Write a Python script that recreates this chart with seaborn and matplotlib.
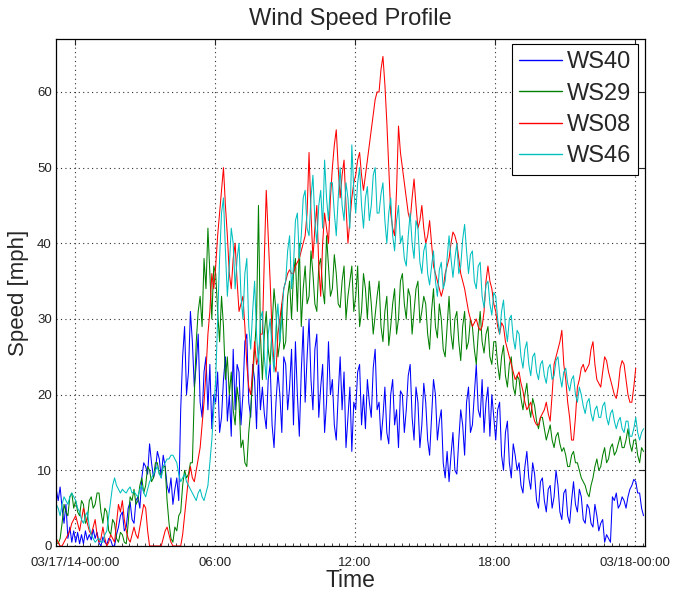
import numpy as np
import pandas as pd
import matplotlib
matplotlib.use("Agg")
import matplotlib.pyplot as plt
import matplotlib.dates as mdates
import seaborn as sns

# Anemometer readings, 5-minute samples starting 2014-03-16 23:12
start = "2014-03-16 23:12"
nan = np.nan

ws40 = [7.5, 6.0, 7.8, 5.0, 3.0, 5.5, 1.0, 2.5, 0.5, 2.0,
        0.5, 1.8, 0.3, 1.5, 0.3, 2.0, 0.8, 1.5, 0.8, 2.2, 1.0, 1.8,
        0.4, 0.0, 1.2, 0.5, 0.2, 1.0, 0.8, 0.0, 0.0, 1.5, 2.5, 4.0,
        4.5, 2.0, 2.5, 5.0, 5.8, 3.5, 3.0, 6.0, 6.5, 5.0, 9.0, 11.0,
        10.5, 9.5, 13.5, 11.0, 9.0, 10.0, 12.5, 11.5, 9.0, 12.0, 10.5, 8.0,
        7.0, 9.0, 5.5, 7.5, 9.0, 6.0, 18.0, 25.0, 29.0, 20.0, 23.0, 31.0,
        27.0, 21.0, 24.0, 28.0, 19.0, 17.0, 23.0, 25.0, 18.0, 24.0, 15.5, 20.0,
        19.0, 23.0, 15.0, 17.0, 22.0, 25.0, 16.5, 20.0, 14.5, 26.0, 18.0, 24.0,
        23.0, 16.0, 20.0, 27.0, 28.0, 19.0, 17.0, 24.0, 22.0, 15.5, 25.0, 18.0,
        21.0, 17.5, 15.5, 22.0, 24.0, 16.0, 13.0, 19.0, 23.0, 20.0, 15.0, 25.0,
        24.0, 18.0, 21.0, 26.0, 16.0, 27.0, 20.0, 14.5, 23.0, 29.0, 19.0, 25.0,
        30.0, 22.0, 18.0, 26.0, 28.0, 17.0, 21.0, 24.0, 15.0, 19.0, 27.0, 20.0,
        22.0, 16.0, 14.0, 20.0, 25.0, 18.0, 23.0, 13.0, 17.0, 21.0, 12.5, 19.0,
        18.0, 23.0, 24.0, 16.0, 20.0, 15.5, 22.0, 19.0, 17.0, 23.5, 26.0, 18.0,
        19.0, 14.0, 17.0, 21.0, 15.0, 13.5, 20.0, 22.0, 16.0, 18.0, 13.0, 20.5,
        20.0, 15.0, 18.0, 22.5, 24.0, 17.0, 14.0, 21.0, 19.0, 13.0, 16.0, 21.5,
        19.0, 14.0, 12.0, 17.0, 22.0, 20.0, 14.0, 16.5, 18.0, 11.0, 9.0, 12.5,
        8.5, 12.0, 15.0, 10.0, 9.5, 14.0, 18.0, 16.0, 12.0, 19.0, 21.0, 15.0,
        16.0, 20.0, 24.0, 18.0, 17.0, 22.0, 15.0, 19.0, 21.0, 14.5, 20.0, 17.0,
        14.0, 18.0, 19.0, 12.0, 10.0, 15.0, 16.5, 11.0, 9.0, 13.5, 12.0, 10.0,
        11.0, 8.0, 7.0, 10.5, 12.5, 9.0, 7.5, 11.0, 9.5, 6.0, 5.0, 8.5,
        9.0, 6.0, 4.5, 7.5, 8.0, 5.0, 6.5, 10.0, 8.0, 4.5, 3.5, 7.0,
        7.5, 4.0, 3.0, 6.0, 8.5, 5.5, 4.5, 7.5, 6.5, 3.5, 3.0, 5.5,
        5.0, 3.0, 2.5, 5.5, 4.0, 2.0, 3.0, 3.5, 0.5, 1.5, 1.0, 0.5,
        6.5, 6.0, 7.0, 5.0, 5.5, 6.5, 6.0, 5.0, 6.5, 7.5, 8.0, 8.8,
        8.5, 7.0, 7.0, 5.0, 4.0]

ws29 = [0.5, 0.3, 1.0, 3.0, 5.5, 4.5, 4.0, 6.5, 7.0, 5.0,
        6.0, 4.5, 4.0, 6.0, 5.5, 3.0, 3.5, 6.0, 6.5, 5.0, 5.5, 7.0,
        7.0, 4.5, 3.0, 5.0, 4.5, 2.0, 1.5, 3.5, 3.0, 1.0, 0.5, 1.8,
        1.5, 0.5, 0.3, 3.0, 6.5, 6.0, 7.5, 5.5, 6.0, 8.0, 9.0, 7.0,
        8.0, 10.5, 10.0, 8.5, 9.0, 11.0, 11.0, 9.5, 9.5, 10.5, 10.5, 6.0,
        3.0, 1.0, 0.5, 2.5, 2.0, 4.0, 4.5, 8.0, 10.0, 9.0, 9.5, 11.0,
        11.0, 20.0, 27.0, 31.0, 33.0, 29.0, 38.0, 34.0, 42.0, 36.0, 30.0, 37.0,
        36.0, 31.0, 27.0, 33.0, 29.0, 22.0, 25.0, 20.0, 23.0, 18.0, 16.0, 21.0,
        19.0, 13.0, 14.0, 11.0, 10.5, 15.0, 18.0, 22.0, 26.0, 30.0, 45.0, 28.0,
        22.0, 28.0, 31.0, 26.0, 24.0, 29.0, 34.0, 31.0, 25.0, 27.0, 32.0, 26.0,
        27.0, 33.0, 35.0, 30.0, 36.0, 38.0, 31.0, 40.0, 29.0, 34.0, 37.0, 32.0,
        33.0, 39.0, 36.0, 32.0, 31.0, 37.0, 38.0, 34.0, 32.0, 41.0, 37.0, 33.0,
        34.0, 38.5, 36.0, 32.0, 31.5, 35.0, 37.0, 30.0, 33.0, 35.0, 37.0, 31.0,
        33.0, 37.0, 29.0, 31.0, 36.0, 34.0, 30.0, 35.0, 32.0, 28.0, 30.5, 33.0,
        35.0, 29.0, 27.0, 31.0, 33.0, 26.5, 29.0, 32.0, 34.0, 28.0, 30.0, 35.0,
        36.0, 32.0, 30.0, 34.0, 33.0, 28.0, 31.0, 34.0, 35.0, 29.5, 31.0, 33.0,
        32.0, 28.0, 26.0, 31.0, 34.0, 29.0, 27.5, 32.0, 30.0, 26.0, 25.0, 29.0,
        33.0, 28.0, 26.0, 30.0, 31.0, 27.0, 24.5, 29.0, 31.0, 26.0, 27.0, 30.0,
        29.0, 26.0, 24.0, 28.0, 31.0, 27.0, 25.5, 28.0, 29.0, 25.0, 24.0, 27.0,
        27.0, 24.0, 22.0, 25.0, 26.5, 22.5, 21.0, 24.0, 25.0, 21.0, 20.0, 22.5,
        22.0, 19.5, 18.0, 20.0, 21.5, 18.5, 17.0, 19.5, 18.5, 16.5, 15.5, 17.0,
        17.0, 15.5, 14.0, 15.0, 16.0, 14.0, 13.0, 14.5, 15.0, 13.5, 12.5, 13.0,
        12.0, 10.5, 10.5, 12.0, 12.5, 11.0, 11.0, 10.0, 9.0, 8.5, 8.0, 7.0,
        6.5, 8.0, 9.0, 10.5, 11.5, 10.0, 10.5, 12.0, 13.0, 11.0, 11.5, 13.0,
        13.5, 12.0, 12.5, 13.5, 14.5, 13.0, 13.0, 14.0, 15.5, 13.5, 12.5, 14.0,
        14.0, 12.0, 11.0, 13.0, 12.5]

ws08 = [1.0, 0.5, 0.0, 0.0, 0.5, 1.0, 1.5, 2.0, 3.0, 3.5,
        4.0, 3.0, 2.0, 3.5, 5.0, 4.0, 3.0, 2.0, 1.5, 2.5, 3.5, 1.5,
        0.5, 1.0, 2.5, 1.0, 0.0, 0.5, 1.5, 1.0, 0.5, 3.0, 5.5, 4.5,
        6.0, 3.5, 2.0, 1.0, 0.5, 1.5, 2.5, 1.5, 1.0, 2.5, 4.0, 5.5,
        5.0, 2.0, 0.0, 0.0, 0.0, 0.0, 0.0, 0.0, 0.0, 1.0, 2.0, 2.5,
        1.5, 0.5, 0.0, 0.0, 0.0, 0.0, 0.0, 1.5, 4.0, 6.5, 9.0, 10.5,
        9.0, 8.5, 10.0, 11.5, 13.0, 16.0, 19.0, 23.0, 28.0, 31.0, 36.0, 34.0,
        37.0, 41.0, 44.0, 47.0, 50.0, 45.0, 41.0, 36.0, 34.0, 38.0, 40.0, 35.0,
        31.0, 32.0, 33.0, 29.0, 24.0, 21.0, 20.0, 23.0, 27.0, 24.0, 25.0, 28.0,
        28.0, 38.0, 47.0, 41.0, 35.0, 28.0, 24.0, 23.0, 28.0, 30.0, 32.0, 34.0,
        35.0, 36.0, 36.5, 36.0, 36.0, 37.0, 37.5, 38.0, 39.0, 40.0, 41.0, 44.0,
        52.0, 44.0, 38.0, 42.0, 45.0, 37.0, 33.0, 40.0, 44.0, 42.0, 40.0, 46.0,
        50.0, 53.0, 55.0, 50.0, 46.0, 49.0, 51.0, 45.0, 40.0, 43.0, 46.0, 48.0,
        49.0, 51.0, 52.0, 49.0, 47.0, 49.0, 51.0, 53.0, 55.0, 57.0, 59.0, 60.0,
        60.0, 63.0, 64.7, 61.0, 56.0, 50.0, 44.0, 42.0, 41.0, 47.0, 55.5, 52.0,
        50.0, 48.0, 46.0, 44.0, 43.0, 46.0, 48.5, 45.0, 42.0, 43.0, 45.0, 42.0,
        40.0, 41.0, 43.0, 40.0, 37.0, 36.0, 35.0, 34.0, 33.0, 34.0, 36.0, 37.0,
        38.0, 40.0, 41.5, 41.0, 40.0, 38.0, 36.0, 35.0, 34.0, 32.5, 31.0, 30.0,
        29.0, 29.5, 30.0, 29.0, 28.5, 29.0, 31.0, 35.0, 37.0, 35.0, 34.0, 32.0,
        31.0, 29.0, 28.0, 29.5, 29.0, 27.0, 26.0, 25.0, 24.0, 23.0, 22.0, 22.5,
        23.0, 21.5, 20.5, 19.0, 18.0, 18.5, 19.0, 17.5, 16.5, 16.0, 16.0, 17.0,
        17.5, 18.0, 19.0, 17.5, 16.5, 20.0, 24.0, 25.0, 26.0, 27.0, 28.5, 24.0,
        22.0, 19.0, 17.0, 14.0, 14.0, 17.0, 21.0, 22.0, 23.5, 24.0, 23.0, 23.5,
        24.0, 26.0, 27.0, 24.0, 22.0, 21.5, 21.0, 23.0, 25.0, 24.5, 23.0, 22.0,
        21.0, 20.0, 19.5, 21.0, 23.5, 24.5, 24.0, 22.0, 20.0, 19.0, 19.0, 21.0,
        23.5, nan, nan, nan, nan]

ws46 = [5.5, 5.0, 4.0, 5.5, 6.5, 6.0, 5.5, 6.5, 7.0, 6.5,
        6.0, 5.0, 4.5, 3.5, 3.0, 4.0, 4.5, 2.5, 1.5, 1.0, 0.5, 0.8,
        1.0, 0.5, 0.5, 1.5, 2.0, 4.0, 6.0, 8.0, 9.0, 8.0, 7.5, 7.0,
        7.5, 7.2, 7.0, 7.5, 7.8, 7.0, 7.2, 6.8, 6.5, 7.5, 8.0, 7.0,
        6.5, 7.5, 8.5, 9.0, 9.5, 10.0, 10.5, 9.5, 9.0, 10.5, 11.0, 11.5,
        11.5, 12.0, 12.0, 11.5, 11.0, 9.5, 8.5, 9.0, 9.5, 8.5, 8.0, 7.5,
        7.0, 6.5, 6.0, 7.0, 7.5, 6.5, 6.0, 7.0, 8.0, 11.0, 14.0, 18.0,
        22.0, 30.0, 38.0, 44.0, 46.0, 39.0, 33.0, 37.0, 42.0, 40.0, 34.0, 38.0,
        40.0, 33.0, 30.0, 36.0, 38.0, 29.0, 26.0, 31.0, 35.0, 28.0, 24.0, 30.0,
        31.0, 25.0, 22.0, 28.0, 30.0, 26.0, 23.0, 29.0, 32.0, 27.0, 30.0, 34.0,
        35.0, 39.0, 41.0, 34.0, 37.0, 43.0, 44.0, 38.0, 41.0, 46.0, 47.0, 42.0,
        41.0, 46.0, 49.0, 43.0, 40.0, 45.0, 47.0, 42.0, 51.0, 46.0, 43.0, 48.0,
        48.0, 44.0, 41.0, 46.0, 50.0, 45.0, 43.0, 48.0, 46.0, 42.0, 53.0, 47.0,
        44.0, 48.0, 50.0, 45.0, 42.0, 46.0, 47.5, 43.0, 45.0, 49.0, 50.0, 44.0,
        44.0, 46.5, 48.0, 43.0, 40.0, 44.0, 46.0, 41.0, 39.0, 43.0, 45.0, 40.0,
        41.0, 38.0, 37.0, 41.0, 44.0, 40.0, 38.0, 43.0, 42.0, 37.5, 36.0, 39.0,
        40.0, 36.0, 34.5, 37.0, 39.0, 35.0, 33.0, 36.5, 37.5, 34.0, 35.0, 38.0,
        41.0, 38.0, 35.5, 38.0, 40.0, 36.0, 37.0, 40.5, 42.5, 39.0, 36.0, 38.5,
        39.0, 35.0, 34.0, 37.0, 37.5, 33.0, 31.5, 34.5, 35.0, 32.0, 30.5, 33.5,
        33.0, 30.0, 28.0, 31.0, 32.5, 29.0, 27.0, 30.0, 30.5, 27.5, 26.0, 28.5,
        28.0, 25.0, 23.5, 26.0, 27.0, 24.0, 22.5, 25.0, 25.5, 23.0, 22.0, 24.0,
        24.5, 22.5, 21.5, 23.5, 24.0, 22.0, 22.5, 24.5, 25.0, 22.5, 21.0, 23.0,
        23.5, 21.5, 20.5, 22.0, 22.5, 20.0, 19.0, 21.0, 20.0, 18.5, 17.5, 19.0,
        19.5, 17.5, 16.5, 18.0, 18.5, 17.0, 17.0, 18.5, 19.0, 17.0, 16.0, 17.5,
        18.0, 16.5, 15.5, 16.5, 17.0, 15.5, 15.0, 16.5, 16.5, 14.5, 14.5, 15.5,
        17.0, 15.0, 14.0, 15.0, 15.5]

sensors = ["WS40", "WS29", "WS08", "WS46"]
colors = ["#0000ff", "#008000", "#ff0000", "#00bfbf"]
tick_labels = ["03/17/14-00:00", "06:00", "12:00", "18:00", "03/18-00:00"]

times = pd.date_range(start, periods=len(ws40), freq="5min")
frames = []
for name, vals in zip(sensors, [ws40, ws29, ws08, ws46]):
    frames.append(pd.DataFrame({"Time": times, "Speed": vals, "Sensor": name}))
df = pd.concat(frames, ignore_index=True).dropna()

sns.set_style("white")
plt.rcParams["font.family"] = ["Liberation Sans", "DejaVu Sans"]

fig = plt.figure(figsize=(6.78, 5.92), dpi=100)
ax = fig.add_axes([56 / 678, 46 / 592, 589 / 678, 507 / 592])

sns.lineplot(data=df, x="Time", y="Speed", hue="Sensor", hue_order=sensors,
             palette=colors, estimator=None, sort=False, linewidth=0.75, ax=ax)

x0 = pd.Timestamp("2014-03-16 23:11:24")
x1 = pd.Timestamp("2014-03-18 00:25:48")
ax.set_xlim(x0, x1)
ax.set_ylim(0, 67)

xt = pd.date_range("2014-03-17 00:00", periods=5, freq="6h")
ax.set_xticks(xt)
ax.set_xticklabels(tick_labels)
ax.xaxis.set_minor_locator(mdates.MinuteLocator(byminute=[0, 20, 40]))
ax.set_yticks([0, 10, 20, 30, 40, 50, 60])

ax.tick_params(axis="both", which="major", direction="in", length=4, width=0.8,
               top=True, right=True, labelsize=9.5, labelcolor="#222222", pad=3)
ax.tick_params(axis="x", which="major", pad=8)
ax.tick_params(axis="x", which="minor", direction="in", length=2, width=0.6,
               top=False, bottom=True)
for s in ax.spines.values():
    s.set_color("black")
    s.set_linewidth(0.9)

ax.grid(True, which="major", color="#303030", linestyle=(0, (1, 3)), linewidth=0.8)

ax.set_title("Wind Speed Profile", fontsize=17, pad=10)
ax.set_xlabel("Time", fontsize=16.5, labelpad=0)
ax.set_ylabel("Speed [mph]", fontsize=16, labelpad=6)

handles, labels = ax.get_legend_handles_labels()
leg = ax.legend(handles, labels, loc="upper right", bbox_to_anchor=(0.988, 0.99),
                fontsize=17, frameon=True, fancybox=False, edgecolor="black",
                framealpha=1, borderpad=0.3, labelspacing=0.4,
                handlelength=1.8, handletextpad=0.2, borderaxespad=0)
leg.get_frame().set_linewidth(0.8)
for line in leg.get_lines():
    line.set_linewidth(1.0)

fig.savefig("out.png", dpi=100)
